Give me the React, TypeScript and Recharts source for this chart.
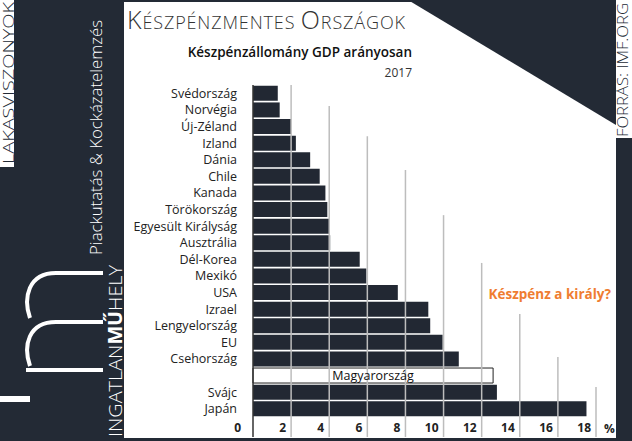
import React from 'react';
import { BarChart, Bar, XAxis, YAxis, Cell, ReferenceLine, LabelList } from 'recharts';

// ---- data ----
const countries = [
  'Svédország', 'Norvégia', 'Új-Zéland', 'Izland', 'Dánia', 'Chile', 'Kanada',
  'Törökország', 'Egyesült Királyság', 'Ausztrália', 'Dél-Korea', 'Mexikó', 'USA',
  'Izrael', 'Lengyelország', 'EU', 'Csehország', 'Magyarország', 'Svájc', 'Japán',
];
const cashToGdp = [
  1.3, 1.4, 2.0, 2.25, 3.0, 3.5, 3.8,
  3.9, 4.0, 4.05, 5.6, 5.95, 7.6,
  9.2, 9.3, 9.95, 10.8, 12.6, 12.8, 17.5,
];
const highlight = 'Magyarország';
const xTicks = [0, 2, 4, 6, 8, 10, 12, 14, 16, 18];

const title1 = 'K';
const title2 = 'ÉSZPÉNZMENTES ';
const title3 = 'O';
const title4 = 'RSZÁGOK';
const subtitle = 'Készpénzállomány GDP arányosan';
const yearLabel = '2017';
const callout = 'Készpénz a király?';
const source = 'FORRÁS: IMF.ORG';
const sideTop = 'LAKASVISZONYOK';
const sideMid = 'Piackutatás & Kockázatelemzés';
const brandA = 'INGATLAN';
const brandB = 'MŰ';
const brandC = 'HELY';

// ---- style / layout ----
const W = 632;
const H = 441;
const DARK = '#232a35';
const BAR = '#222833';
const FONT = "'Open Sans', 'Noto Sans', sans-serif";
// fraction of plot height at which each gridline (2..18) starts (staircase look)
const gridTopFrac = [0, 0.063, 0.154, 0.256, 0.392, 0.536, 0.69, 0.819, 0.91];
const GRID_EXTEND = 20;

const data = countries.map((c, i) => ({
  name: c,
  value: cashToGdp[i],
  label: c === highlight ? c : '',
}));

const gridShape = (frac: number, color: string, width: number) => (p: any) => {
  const top = Math.min(p.y1, p.y2);
  const bot = Math.max(p.y1, p.y2);
  return (
    <line
      x1={p.x1}
      x2={p.x2}
      y1={top + (bot - top) * frac}
      y2={bot + GRID_EXTEND}
      stroke={color}
      strokeWidth={width}
    />
  );
};

const XTick = (p: any) => {
  const v = p.payload.value;
  return (
    <text
      x={p.x - (v === 0 ? 12 : 5)}
      y={p.y}
      dy={15}
      textAnchor="end"
      fontSize={12}
      fontWeight={700}
      fill="#222"
      fontFamily={FONT}
    >
      {v}
    </text>
  );
};

const YTick = (p: any) => {
  const v = p.payload.value;
  if (v === highlight) return <g />;
  return (
    <text x={p.x} y={p.y} dy="0.36em" textAnchor="end" fontSize={12.5} fill="#222" fontFamily={FONT}>
      {v}
    </text>
  );
};

export default function App() {
  return (
    <div
      style={{
        position: 'absolute',
        left: 0,
        top: 0,
        width: W,
        height: H,
        background: '#fff',
        overflow: 'hidden',
        fontFamily: FONT,
      }}
    >
      <BarChart
        width={W}
        height={H}
        data={data}
        layout="vertical"
        margin={{ top: 85, right: 36, bottom: 0, left: 0 }}
        barCategoryGap="5%"
      >
        <XAxis
          type="number"
          domain={[0, 18]}
          ticks={xTicks}
          interval={0}
          axisLine={false}
          tickLine={false}
          tickSize={0}
          tickMargin={0}
          height={24}
          tick={XTick}
          label={{ value: '%', position: 'right', offset: 8, fontSize: 12, fontWeight: 700, fill: '#222', fontFamily: FONT }}
        />
        <YAxis
          type="category"
          dataKey="name"
          width={253}
          interval={0}
          axisLine={false}
          tickLine={false}
          tickSize={0}
          tickMargin={16}
          tick={YTick}
        />
        {xTicks.slice(1).map((t, i) => (
          <ReferenceLine key={t} x={t} stroke="#bdbdbd" shape={gridShape(gridTopFrac[i], '#bdbdbd', 1.5)} />
        ))}
        <Bar dataKey="value" isAnimationActive={false}>
          {data.map((d) => (
            <Cell
              key={d.name}
              fill={d.name === highlight ? '#ffffff' : BAR}
              stroke={d.name === highlight ? '#222' : 'none'}
              strokeWidth={1}
            />
          ))}
          <LabelList dataKey="label" position="center" fill="#111" fontSize={12.5} fontFamily={FONT} />
        </Bar>
        <ReferenceLine x={0} stroke="#333" shape={gridShape(0, '#333', 1.5)} />
      </BarChart>

      <svg
        width={W}
        height={H}
        style={{ position: 'absolute', left: 0, top: 0, pointerEvents: 'none' }}
      >
        {/* frame */}
        <rect x={0} y={0} width={124} height={H} fill={DARK} />
        <rect x={124} y={0} width={290} height={2} fill={DARK} />
        <polygon points="408,0 616,0 616,125" fill={DARK} />
        <rect x={616} y={138} width={16} height={H - 138} fill={DARK} />
        <rect x={0} y={438} width={W} height={3} fill={DARK} />

        {/* left brand panel */}
        <rect x={0} y={0} width={14} height={167} fill="#fff" />
        <text
          transform="translate(13.5,164) rotate(-90)"
          fontSize={14.5}
          fontWeight={300}
          fill={DARK}
          fontFamily={FONT}
          textLength={162}
          lengthAdjust="spacingAndGlyphs"
        >
          {sideTop}
        </text>
        <text
          transform="translate(102,255) rotate(-90)"
          fontSize={15.5}
          fontWeight={300}
          fill="#fff"
          fontFamily={FONT}
          textLength={235}
          lengthAdjust="spacingAndGlyphs"
        >
          {sideMid}
        </text>
        <text
          transform="translate(122,437) rotate(-90)"
          fontSize={19}
          fontWeight={300}
          fill="#fff"
          fontFamily={FONT}
          textLength={172}
          lengthAdjust="spacingAndGlyphs"
        >
          {brandA}
          <tspan fontWeight={700}>{brandB}</tspan>
          {brandC}
        </text>
        <rect x={0} y={396} width={30} height={6} fill="#fff" />
        <path
          d="M103,370 L26,370 M30,366 C23,346 28,322 56,322 L103,322 M30,318 C23,298 28,273 56,273 L103,273"
          fill="none"
          stroke="#fff"
          strokeWidth={4}
        />

        {/* titles */}
        <text x={127} y={29} fill="#333" fontWeight={300} fontFamily={FONT} textLength={278} lengthAdjust="spacing">
          <tspan fontSize={25}>{title1}</tspan>
          <tspan fontSize={18}>{title2}</tspan>
          <tspan fontSize={25}>{title3}</tspan>
          <tspan fontSize={18}>{title4}</tspan>
        </text>
        <text x={412} y={57} textAnchor="end" fontSize={13.5} fontWeight={600} fill="#111" fontFamily={FONT}>
          {subtitle}
        </text>
        <text x={412} y={77} textAnchor="end" fontSize={12} fill="#333" fontFamily={FONT}>
          {yearLabel}
        </text>
        <text x={611} y={299} textAnchor="end" fontSize={13.5} fontWeight={700} fill="#ef7d31" fontFamily={FONT}>
          {callout}
        </text>

        {/* source */}
        <text
          transform="translate(627.5,137) rotate(-90)"
          fontSize={14.5}
          fontWeight={300}
          fill={DARK}
          fontFamily={FONT}
          textLength={134}
          lengthAdjust="spacingAndGlyphs"
        >
          {source}
        </text>
      </svg>
    </div>
  );
}
